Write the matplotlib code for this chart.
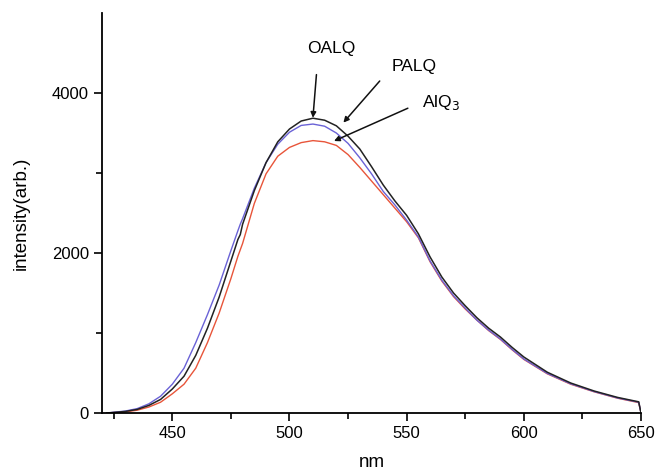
import numpy as np
import matplotlib
matplotlib.use("Agg")
import matplotlib.pyplot as plt

plt.rcParams['font.family'] = ['Liberation Sans', 'DejaVu Sans']

# wavelength (nm)
wl = [422, 430, 435, 440, 445, 450, 455, 460, 465, 470, 475, 478, 479, 480, 485,
      490, 495, 500, 505, 510, 515, 520, 525, 530, 535, 540, 545, 550, 555, 560,
      565, 570, 575, 580, 585, 590, 595, 600, 610, 620, 630, 640, 649, 650]

oalq = [0, 20, 45, 95, 170, 300, 460, 720, 1060, 1450, 1900, 2170, 2230, 2360, 2780,
        3130, 3390, 3550, 3650, 3685, 3660, 3590, 3460, 3300, 3080, 2850, 2650, 2470, 2240, 1950,
        1700, 1500, 1340, 1190, 1060, 950, 820, 700, 510, 375, 275, 195, 140, 0]

palq = [0, 25, 55, 115, 210, 360, 560, 880, 1230, 1600, 2030, 2280, 2360, 2430, 2810,
        3130, 3360, 3510, 3595, 3612, 3585, 3500, 3370, 3190, 2990, 2770, 2600, 2410, 2200, 1900,
        1660, 1465, 1310, 1160, 1035, 925, 795, 675, 495, 365, 268, 188, 135, 0]

alq3 = [0, 15, 35, 75, 135, 240, 360, 560, 880, 1250, 1680, 1960, 2040, 2120, 2620,
        2990, 3210, 3320, 3380, 3405, 3390, 3345, 3230, 3070, 2900, 2730, 2560, 2390, 2190, 1890,
        1650, 1455, 1300, 1160, 1030, 920, 790, 670, 490, 360, 265, 185, 130, 0]

labels = ['OALQ', 'PALQ', 'AlQ$_3$']
text_pos = [(518, 4560), (553, 4330), (564.5, 3880)]
arrow_from = [(511.5, 4230), (538.5, 4150), (550.5, 3810)]
arrow_to = [(510, 3690), (523, 3630), (519, 3400)]

fig = plt.figure(figsize=(6.55, 4.73), dpi=100)
ax = fig.add_axes([0.1557, 0.1268, 0.823, 0.8457])

ax.plot(wl, alq3, color='#e8553a', lw=1.0)
ax.plot(wl, palq, color='#6a62d6', lw=1.0)
ax.plot(wl, oalq, color='#222222', lw=1.1)

for lab, tp, af, at in zip(labels, text_pos, arrow_from, arrow_to):
    ax.text(tp[0], tp[1], lab, fontsize=12.5, ha='center', va='center')
    ax.annotate('', xy=at, xytext=af,
                arrowprops=dict(arrowstyle='-|>', color='#111111', lw=1.1,
                                mutation_scale=8, shrinkA=0, shrinkB=0))

ax.set_xlim(420, 650)
ax.set_ylim(0, 5000)
ax.set_xticks([450, 500, 550, 600, 650])
ax.set_xticks([425, 475, 525, 575, 625], minor=True)
ax.set_yticks([0, 2000, 4000])
ax.set_yticks([1000, 3000], minor=True)

for s in ['top', 'right']:
    ax.spines[s].set_visible(False)
for s in ['left', 'bottom']:
    ax.spines[s].set_linewidth(1.3)
ax.tick_params(which='major', direction='out', length=6, width=1.2, labelsize=12)
ax.tick_params(which='minor', direction='out', length=4, width=1.2)

ax.set_xlabel('nm', fontsize=13.5, labelpad=9)
ax.set_ylabel('intensity(arb.)', fontsize=13.5, labelpad=16)

fig.savefig('out.png', dpi=100)
